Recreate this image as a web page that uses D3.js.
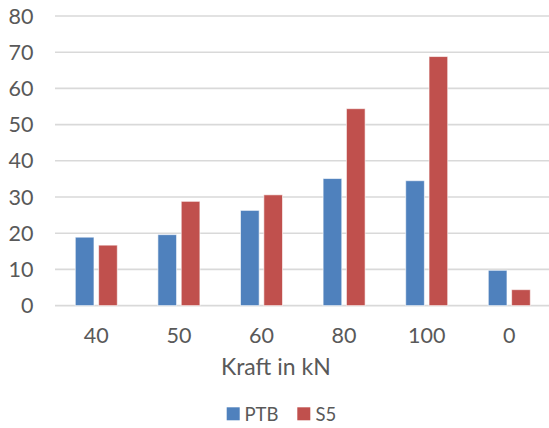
<!DOCTYPE html>
<html>
<head>
<meta charset="utf-8">
<script src="https://cdn.jsdelivr.net/npm/d3@7"></script>
<style>
  html, body { margin: 0; padding: 0; background: #fff; }
  svg { display: block; }
  text { font-family: Lato, "Open Sans", sans-serif; fill: #595959; }
</style>
</head>
<body>
<script>
const categories = ["40", "50", "60", "80", "100", "0"];
const seriesNames = ["PTB", "S5"];
const ptbValues = [18.9, 19.6, 26.3, 35.1, 34.5, 9.75];
const s5Values = [16.7, 28.8, 30.6, 54.4, 68.8, 4.4];
const yTicks = [0, 10, 20, 30, 40, 50, 60, 70, 80];
const xTitle = "Kraft in kN";
const colors = ["#4F81BD", "#C0504D"];

const W = 549, H = 428;
const svg = d3.select("body").append("svg").attr("width", W).attr("height", H);

const plotLeft = 55, plotRight = 550.6, plotTop = 16, plotBottom = 305.6;

const y = d3.scaleLinear().domain([0, 80]).range([plotBottom, plotTop]);
const x0 = d3.scaleBand().domain(categories).range([plotLeft, plotRight]).padding(0);
const groupW = 42;
const x1 = d3.scaleBand().domain(seriesNames).range([0, groupW]).paddingInner(0.2);

// gridlines
svg.append("g").selectAll("line").data(yTicks).join("line")
  .attr("x1", plotLeft).attr("x2", W)
  .attr("y1", d => y(d)).attr("y2", d => y(d))
  .attr("stroke", "#D9D9D9").attr("stroke-width", 1.6);

// y labels
svg.append("g").selectAll("text").data(yTicks).join("text")
  .attr("x", 33.5).attr("y", d => y(d) + 7.6)
  .attr("text-anchor", "end")
  .style("font-size", "21.5px")
  .text(d => d);

// bars
const table = categories.map((c, i) => ({ cat: c, vals: [ptbValues[i], s5Values[i]] }));
const groups = svg.append("g").selectAll("g").data(table).join("g")
  .attr("transform", d => `translate(${x0(d.cat) + (x0.bandwidth() - groupW) / 2},0)`);
groups.selectAll("rect").data(d => d.vals.map((v, j) => ({ name: seriesNames[j], v, j })))
  .join("rect")
  .attr("x", d => x1(d.name))
  .attr("width", x1.bandwidth())
  .attr("y", d => y(d.v))
  .attr("height", d => y(0) - y(d.v))
  .attr("fill", d => colors[d.j])
  .attr("stroke", "#ffffff").attr("stroke-opacity", 0.6).attr("stroke-width", 1);

// x labels
svg.append("g").selectAll("text").data(categories).join("text")
  .attr("x", d => x0(d) + x0.bandwidth() / 2)
  .attr("y", 343.3)
  .attr("text-anchor", "middle")
  .style("font-size", "21.5px")
  .text(d => d);

// axis title
svg.append("text").attr("x", 275.8).attr("y", 375)
  .attr("text-anchor", "middle")
  .style("font-size", "23px")
  .text(xTitle);

// legend
const legendItems = [
  { name: seriesNames[0], color: colors[0], sx: 226.7, tx: 244.5 },
  { name: seriesNames[1], color: colors[1], sx: 297.3, tx: 315.5 }
];
const lg = svg.append("g");
lg.selectAll("rect").data(legendItems).join("rect")
  .attr("x", d => d.sx).attr("y", 407.3).attr("width", 13).attr("height", 13)
  .attr("fill", d => d.color);
lg.selectAll("text").data(legendItems).join("text")
  .attr("x", d => d.tx).attr("y", 420.5)
  .style("font-size", "18.5px")
  .text(d => d.name);
</script>
</body>
</html>
